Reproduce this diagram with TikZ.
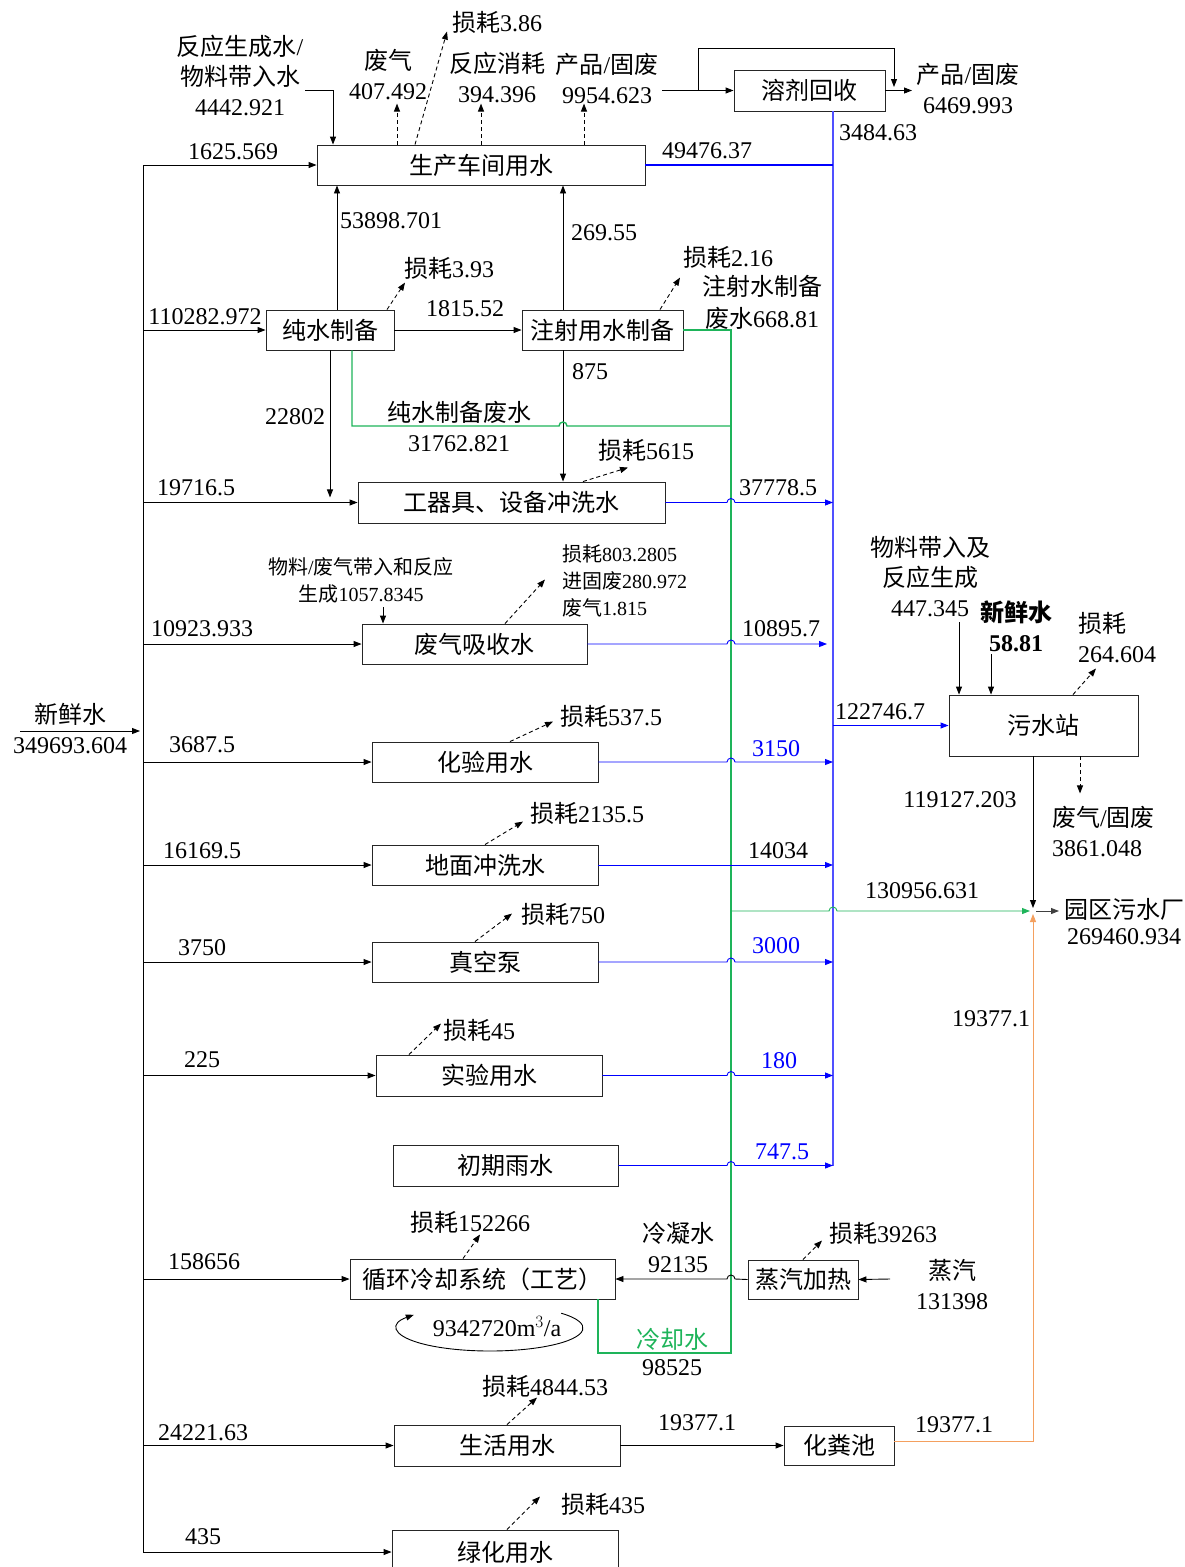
\documentclass[tikz,border=0pt]{standalone}
\usepackage{fontspec}
\setmainfont{Liberation Serif}
\newfontfamily\cjkfnt{Noto Sans CJK SC}
\newfontfamily\latinfnt{Liberation Serif}
\usetikzlibrary{arrows.meta}
\XeTeXinterchartokenstate=1
\newXeTeXintercharclass\CJKcls
\newcount\cjkcnt
\cjkcnt="4E00
\loop
 \XeTeXcharclass\cjkcnt=\CJKcls
 \ifnum\cjkcnt<"9FFF \advance\cjkcnt by 1 \repeat
\XeTeXcharclass"3001=\CJKcls
\XeTeXcharclass"FF08=\CJKcls
\XeTeXcharclass"FF09=\CJKcls
\XeTeXinterchartoks 0 \CJKcls={\cjkfnt}
\XeTeXinterchartoks 4095 \CJKcls={\cjkfnt}
\XeTeXinterchartoks \CJKcls 0={\latinfnt}
\XeTeXinterchartoks \CJKcls 4095={\latinfnt}
\newcommand\fsA{\fontsize{24}{30}\selectfont}
\newcommand\fsS{\fontsize{20}{27}\selectfont}
\definecolor{blu}{RGB}{0,0,255}
\definecolor{bluv}{RGB}{80,80,255}
\definecolor{grn}{RGB}{30,180,90}
\definecolor{org}{RGB}{244,160,95}
\tikzset{
 box/.style={draw=black!85, line width=0.9pt, inner sep=0pt, font=\fsA},
 lbl/.style={inner sep=0pt, font=\fsA, align=center},
 sml/.style={inner sep=0pt, font=\fsS, align=center},
 arr/.style={-{Triangle[length=8pt,width=6pt]}, line width=0.9pt},
 ln/.style={line width=0.9pt},
 dsh/.style={arr, dash pattern=on 4pt off 3pt},
 bll/.style={draw=blu, line width=1.4pt},
 grl/.style={draw=grn, line width=1.4pt},
}
\begin{document}
\begin{tikzpicture}[x=1pt,y=-1pt]
\useasboundingbox (0,0) rectangle (1185,1567);
\fill[white] (0,0) rectangle (1185,1567);

% boxes
\node[box,minimum width=328pt,minimum height=40pt] (prod) at (481,165) {生产车间用水};
\node[box,minimum width=151pt,minimum height=41pt] (solv) at (809.5,90.5) {溶剂回收};
\node[box,minimum width=128pt,minimum height=40pt] (pure) at (330,330) {纯水制备};
\node[box,minimum width=161pt,minimum height=40pt] (inj) at (602.5,330) {注射用水制备};
\node[box,minimum width=307pt,minimum height=41pt] (wash) at (511.5,502.5) {工器具、设备冲洗水};
\node[box,minimum width=225pt,minimum height=40pt] (gas) at (474.5,644) {废气吸收水};
\node[box,minimum width=226pt,minimum height=40pt] (lab) at (485,762) {化验用水};
\node[box,minimum width=226pt,minimum height=40pt] (floor) at (485,865) {地面冲洗水};
\node[box,minimum width=226pt,minimum height=40pt] (vac) at (485,962) {真空泵};
\node[box,minimum width=226pt,minimum height=41pt] (expw) at (489,1075.5) {实验用水};
\node[box,minimum width=225pt,minimum height=41pt] (rain) at (505.5,1165.5) {初期雨水};
\node[box,minimum width=265pt,minimum height=40pt] (cool) at (482.5,1279) {循环冷却系统（工艺）};
\node[box,minimum width=110pt,minimum height=39pt] (steam) at (803,1279.5) {蒸汽加热};
\node[box,minimum width=226pt,minimum height=41pt] (life) at (507,1445.5) {生活用水};
\node[box,minimum width=110pt,minimum height=39pt] (septic) at (839,1445.5) {化粪池};
\node[box,minimum width=226pt,minimum height=44pt] (greenb) at (505,1552) {绿化用水};
\node[box,minimum width=189pt,minimum height=61pt] (wwtp) at (1043.5,725.5) {污水站};

% coordinates
\coordinate (trunk) at (143,165);
\coordinate (trunkB) at (143,1552);
\coordinate (bus) at (833,111);
\coordinate (busB) at (833,1166);
\coordinate (jn) at (1033,911);
\coordinate (fwin) at (20,731);
\coordinate (fwout) at (140,731);

% trunk and feeds
\draw[ln] (trunk) -- (trunkB);
\draw[arr] (fwin) -- (fwout);
\foreach \n in {prod,pure,wash,gas,lab,floor,vac,expw,cool,life,greenb}
  \draw[arr] (trunk |- \n.west) -- (\n.west);

% top of production
\draw[arr] (305,90) -| ([xshift=-148pt]prod.north);
\draw[dsh] ([xshift=-84pt]prod.north) -- ++(0,-41);
\draw[dsh] ([xshift=-66pt]prod.north) -- ++(32,-113);
\draw[dsh] (prod.north) -- ++(0,-41);
\draw[dsh] ([xshift=103pt]prod.north) -- ++(0,-41);
\draw[arr] (662,90.5) -- (solv.west);
\draw[arr] (698,90.5) -- (698,48) -- (894,48) -- (894,87);
\draw[arr] (solv.east) -- (912,90.5);

% blue bus
\draw[draw=bluv,line width=2pt] (bus) -- (busB);
\draw[bll] (prod.east) -- (prod.east -| bus);
\draw[bll,arr] (wwtp.west -| bus) -- (wwtp.west);

% pure / injection
\draw[arr] ([xshift=7pt]pure.north) -- ([xshift=7pt]pure.north |- prod.south);
\draw[arr] ([xshift=-39.5pt]inj.north) -- ([xshift=-39.5pt]inj.north |- prod.south);
\draw[arr] (pure.east) -- (inj.west);
\draw[arr] (pure.south) -- ++(0,147);
\draw[arr] ([xshift=-39.5pt]inj.south) -- ([xshift=-39.5pt]inj.south |- wash.north);
\draw[dsh] ([xshift=57pt]pure.north) -- ++(18,-27);
\draw[dsh] ([xshift=57.5pt]inj.north) -- ++(20,-32);

% green lines
\draw[grl] (inj.east) -- (731,330) -- (731,1353) -- (598,1353) -- ([xshift=115.5pt]cool.south);
\draw[grl] ([xshift=22pt]pure.south) -- (352,426) -- (559,426) arc[start angle=180,end angle=0,radius=4pt] -- (731,426);
\draw[grl,arr] (731,911) -- (829,911) arc[start angle=180,end angle=0,radius=4pt] -- ([xshift=-3pt]jn);

% blue outflows
\draw[bll,arr] (wash.east) -- (727,502.5) arc[start angle=180,end angle=0,radius=4pt] -- (wash.east -| bus);
\draw[bll,arr] (gas.east) -- (727,644) arc[start angle=180,end angle=0,radius=4pt] -- ([xshift=-6pt]gas.east -| bus);
\draw[bll,arr] (lab.east) -- (727,762) arc[start angle=180,end angle=0,radius=4pt] -- (lab.east -| bus);
\draw[bll,arr] (floor.east) -- (floor.east -| bus);
\draw[bll,arr] (vac.east) -- (727,962) arc[start angle=180,end angle=0,radius=4pt] -- (vac.east -| bus);
\draw[bll,arr] (expw.east) -- (727,1075.5) arc[start angle=180,end angle=0,radius=4pt] -- (expw.east -| bus);
\draw[bll,arr] (rain.east) -- (727,1165.5) arc[start angle=180,end angle=0,radius=4pt] -- (rain.east -| bus);

% losses
\draw[dsh] ([xshift=71.5pt]wash.north) -- ++(45,-14);
\draw[arr] (383,607) -- ([xshift=-91.5pt]gas.north);
\draw[dsh] ([xshift=30.5pt]gas.north) -- ++(40,-44);
\draw[dsh] ([xshift=25pt]lab.north) -- ++(43,-20);
\draw[dsh] (floor.north) -- ++(38,-23);
\draw[dsh] ([xshift=-10pt]vac.north) -- ++(37,-28);
\draw[dsh] ([xshift=-80pt]expw.north) -- ++(32,-31);
\draw[dsh] ([xshift=-19.5pt]cool.north) -- ++(17,-24);
\draw[dsh] (steam.north) -- ++(19,-19);
\draw[dsh] (life.north) -- ++(30,-27);
\draw[dsh] ([xshift=2pt]greenb.north) -- ++(33,-33);

% cooling / steam
\draw[arr] (steam.west) -- (735,1279) arc[start angle=0,end angle=180,radius=4pt] -- (cool.east);
\draw[arr] (890,1279) -- (steam.east);
\draw[arr] (490,1328) ++(40:93pt and 23pt) arc[start angle=40,end angle=-215,x radius=93pt,y radius=23pt];

% domestic
\draw[arr] (life.east) -- (septic.west);
\draw[draw=org,line width=1.4pt,arr] ([yshift=4.5pt]septic.east) -| ([yshift=-3pt]jn);

% wwtp
\draw[arr] (959,622) -- ([xshift=-84.5pt]wwtp.north);
\draw[arr] (991,654) -- ([xshift=-52.5pt]wwtp.north);
\draw[dsh] ([xshift=29.5pt]wwtp.north) -- ++(23,-26);
\draw[dsh] ([xshift=36.5pt]wwtp.south) -- ++(0,37);
\draw[arr] (wwtp.south -| jn) -- ([yshift=3pt]jn);
\draw[arr,black!75] ([xshift=3pt]jn) -- ++(23,0);

% labels
\node[lbl] (l1) at (240,75) {反应生成水/\\物料带入水\\4442.921};
\node[lbl] (l2) at (388,74.5) {废气\\407.492};
\node[lbl] (l3) at (497,22) {损耗3.86};
\node[lbl] (l4) at (497,77) {反应消耗\\394.396};
\node[lbl] (l5) at (607,79) {产品/固废\\9954.623};
\node[lbl] (l6) at (968,89) {产品/固废\\6469.993};
\node[lbl] (l7) at (878,133) {3484.63};
\node[lbl] (l8) at (233,152) {1625.569};
\node[lbl] (l9) at (707,151) {49476.37};
\node[lbl] (l10) at (391,221) {53898.701};
\node[lbl] (l11) at (604,233) {269.55};
\node[lbl] (l12) at (449,268) {损耗3.93};
\node[lbl] (l13) at (728,257) {损耗2.16};
\node[lbl] (l14) at (762,302) {注射水制备\\[2pt]废水668.81};
\node[lbl] (l15) at (465,309) {1815.52};
\node[lbl] (l16) at (205,317) {110282.972};
\node[lbl] (l17) at (590,372) {875};
\node[lbl] (l18) at (295,417) {22802};
\node[lbl] (l19) at (459,427) {纯水制备废水\\31762.821};
\node[lbl] (l20) at (646,450) {损耗5615};
\node[lbl] (l21) at (196,488) {19716.5};
\node[lbl] (l22) at (778,488) {37778.5};
\node[sml] (l23) at (361,580) {物料/废气带入和反应\\生成1057.8345};
\node[sml,align=left,anchor=west] (l24) at (562,581) {损耗803.2805\\进固废280.972\\废气1.815};
\node[lbl] (l25) at (202,629) {10923.933};
\node[lbl] (l26) at (781,629) {10895.7};
\node[lbl] (l27) at (70,728.5) {新鲜水\\349693.604};
\node[lbl] (l28) at (202,745) {3687.5};
\node[lbl] (l29) at (611,716) {损耗537.5};
\node[lbl,text=blu] (l30) at (776,749) {3150};
\node[lbl] (l31) at (880,712) {122746.7};
\node[lbl] (l32) at (930,577) {物料带入及\\反应生成\\447.345};
\node[lbl,font=\fsA\bfseries] (l33) at (1016,626) {新鲜水\\58.81};
\node[lbl,align=left,anchor=west] (l34) at (1078,638) {损耗\\264.604};
\node[lbl] (l35) at (960,800) {119127.203};
\node[lbl,align=left,anchor=west] (l36) at (1052,832) {废气/固废\\3861.048};
\node[lbl] (l37) at (202,851) {16169.5};
\node[lbl] (l38) at (587,813) {损耗2135.5};
\node[lbl] (l39) at (778,851) {14034};
\node[lbl] (l40) at (922,891) {130956.631};
\node[lbl] (l41) at (1124,922) {园区污水厂\\[-4pt]269460.934};
\node[lbl] (l42) at (202,948) {3750};
\node[lbl] (l43) at (563,914) {损耗750};
\node[lbl,text=blu] (l44) at (776,946) {3000};
\node[lbl] (l45) at (991,1019) {19377.1};
\node[lbl] (l46) at (202,1060) {225};
\node[lbl] (l47) at (479,1030) {损耗45};
\node[lbl,text=blu] (l48) at (779,1061) {180};
\node[lbl,text=blu] (l49) at (782,1152) {747.5};
\node[lbl] (l50) at (470,1222) {损耗152266};
\node[lbl] (l51) at (678,1248) {冷凝水\\92135};
\node[lbl] (l52) at (883,1233) {损耗39263};
\node[lbl] (l53) at (204,1262) {158656};
\node[lbl] (l54) at (952,1285) {蒸汽\\131398};
\node[lbl] (l55) at (497,1327) {9342720m$^3$/a};
\node[lbl,text=grn] (l56) at (672,1339) {冷却水};
\node[lbl] (l57) at (672,1368) {98525};
\node[lbl] (l58) at (545,1386) {损耗4844.53};
\node[lbl] (l59) at (203,1433) {24221.63};
\node[lbl] (l60) at (697,1423) {19377.1};
\node[lbl] (l61) at (954,1425) {19377.1};
\node[lbl] (l62) at (603,1504) {损耗435};
\node[lbl] (l63) at (203,1537) {435};
\end{tikzpicture}
\end{document}
